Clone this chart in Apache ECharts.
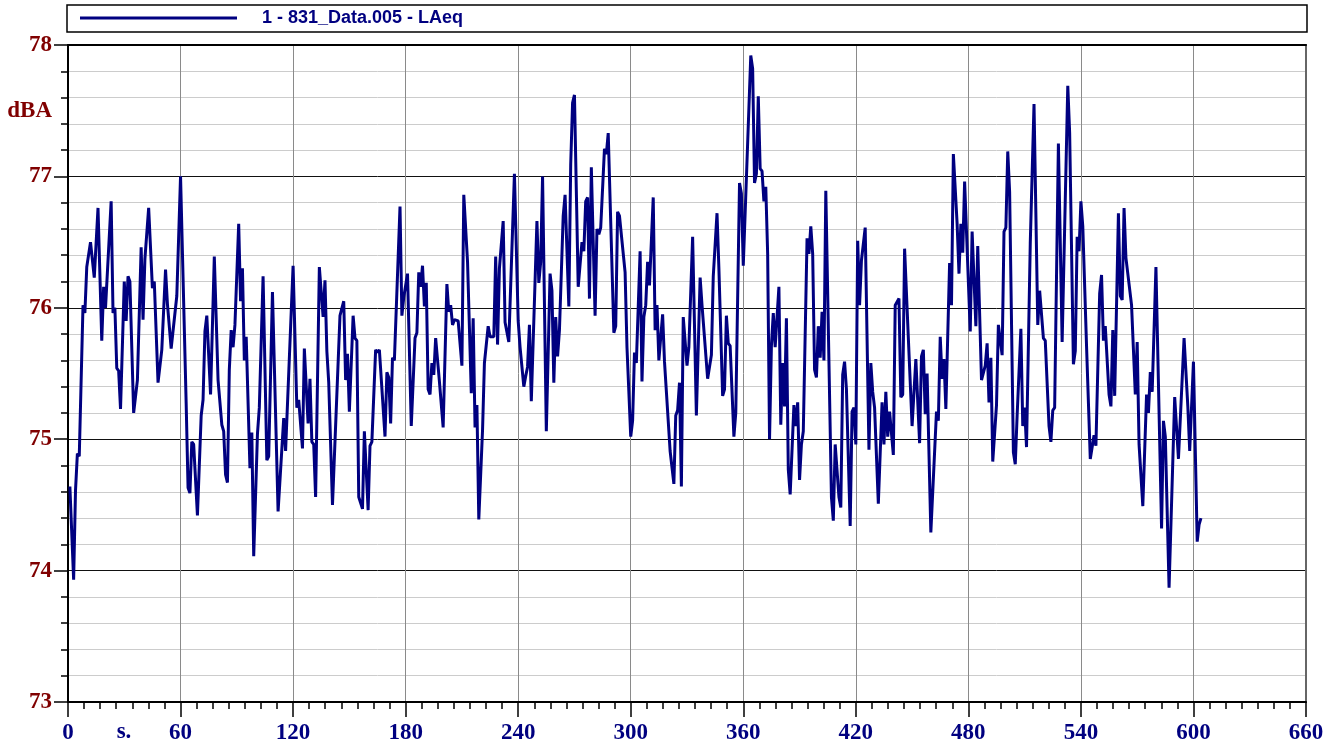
<!DOCTYPE html>
<html>
<head>
<meta charset="utf-8">
<script src="https://cdn.jsdelivr.net/npm/echarts@6/dist/echarts.min.js"></script>
<style>
html,body{margin:0;padding:0;background:#fff;}
#chart{width:1338px;height:745px;}
</style>
</head>
<body>
<div id="chart"></div>
<script>
// Sample times (s)
const timeSec = [
  1,3,4,5,6,8,9,10,12,14,
  16,18,19,20,23,24,25,26,27,28,
  30,31,32,33,35,37,39,40,41,43,
  45,46,48,50,52,53,55,56,58,60,
  63,64,65,66,67,69,71,72,73,74,
  75,76,78,80,81,82,83,84,85,86,
  87,88,89,91,92,93,94,95,97,98,
  99,101,102,104,106,107,109,112,115,116,
  117,120,122,123,125,126,128,129,130,131,
  132,134,136,137,138,139,141,145,147,148,
  149,150,152,153,154,155,157,158,160,161,
  162,164,165,166,169,170,171,172,173,174,
  177,178,179,180,181,183,185,186,187,188,
  189,190,191,192,193,194,195,196,198,200,
  202,203,204,205,206,208,210,211,213,215,
  216,217,218,219,221,222,224,225,227,228,
  229,230,232,233,235,238,240,241,243,244,
  245,246,247,248,250,251,252,253,255,257,
  258,259,260,261,262,264,265,267,268,269,
  270,272,274,275,276,277,278,279,281,282,
  283,284,286,287,288,289,291,292,293,294,
  295,297,298,300,301,302,303,305,306,307,
  308,309,310,312,313,314,315,317,318,321,
  323,324,325,326,327,328,330,331,333,335,
  337,338,339,341,342,343,344,346,347,349,
  350,351,352,353,355,356,358,359,360,364,
  365,366,367,368,369,370,371,372,373,374,
  375,376,377,379,380,381,382,383,384,385,
  387,388,389,390,391,392,394,395,396,397,
  398,399,400,401,402,403,404,407,408,409,
  411,412,413,414,415,417,418,419,420,421,
  422,423,425,427,428,429,430,432,434,435,
  436,437,438,439,440,441,443,444,445,446,
  448,450,452,454,455,456,457,458,460,461,
  463,464,465,466,467,468,470,471,472,474,
  475,476,477,478,481,482,484,485,487,489,
  490,491,492,493,495,496,497,498,499,500,
  501,502,504,505,506,508,509,510,511,513,
  515,517,518,520,521,523,524,525,526,528,
  530,533,534,536,537,538,539,540,541,543,
  545,547,548,550,551,552,553,554,555,556,
  557,558,560,561,562,563,564,567,568,569,
  570,571,572,573,575,576,577,578,580,583,
  584,585,587,590,592,595,597,598,600,602,
  603,604
];
// LAeq levels (dBA) at those times
const laeq = [
  74.64,73.93,74.61,74.89,74.87,76.02,75.96,76.31,76.50,76.23,
  76.76,75.75,76.16,76.00,76.81,75.96,76.00,75.54,75.52,75.23,
  76.20,75.90,76.24,76.20,75.20,75.45,76.46,75.91,76.37,76.76,
  76.15,76.20,75.43,75.68,76.29,76.03,75.69,75.69,76.09,77.00,
  75.27,74.63,74.59,74.98,74.96,74.42,75.18,75.30,75.82,75.94,
  75.95,75.34,76.39,75.45,75.44,75.11,75.06,74.73,74.67,75.53,
  75.83,75.70,75.87,76.64,76.05,76.30,75.60,75.78,74.78,75.05,
  74.11,75.04,75.24,76.24,74.84,74.87,76.12,74.45,75.16,74.91,
  74.90,76.32,75.24,75.30,74.93,75.69,75.12,75.46,74.98,74.96,
  74.56,76.31,75.93,76.21,75.67,75.43,74.50,75.94,76.05,75.45,
  75.65,75.21,75.94,75.77,75.75,74.56,74.47,75.06,74.46,74.95,
  74.98,75.68,75.66,75.68,75.02,75.51,75.47,75.12,75.62,75.60,
  76.77,75.94,76.08,76.07,76.26,75.10,75.77,75.81,76.27,76.16,
  76.32,76.01,76.19,75.38,75.34,75.58,75.49,75.77,75.44,75.09,
  76.18,75.97,76.02,75.87,75.91,75.90,75.56,76.86,76.35,75.35,
  75.92,75.09,75.26,74.39,75.07,75.58,75.86,75.78,75.78,76.39,
  75.72,76.30,76.66,75.89,75.74,77.02,75.90,75.70,75.40,75.48,
  75.55,75.87,75.29,75.30,76.66,76.19,76.35,77.00,75.06,76.26,
  76.13,75.43,75.93,75.63,75.83,76.70,76.86,76.01,77.09,77.56,
  77.62,76.16,76.50,76.43,76.81,76.84,76.07,77.07,75.94,76.60,
  76.56,76.61,77.21,77.17,77.33,77.34,75.81,75.86,76.73,76.70,
  76.69,76.27,75.70,75.02,75.14,75.66,75.58,76.43,75.44,75.93,
  76.02,76.35,76.17,76.84,75.83,76.02,75.60,75.95,75.59,74.91,
  74.66,75.18,75.22,75.43,74.64,75.93,75.56,75.70,76.54,75.18,
  76.23,76.02,76.02,75.46,75.47,75.64,76.24,76.72,76.30,75.33,
  75.38,75.94,75.73,75.71,75.02,75.20,76.95,76.87,76.32,77.92,
  77.82,76.95,77.02,77.61,77.06,77.04,76.81,76.92,76.41,75.00,
  75.71,75.96,75.70,76.16,75.11,75.58,75.25,75.92,74.77,74.58,
  75.26,75.10,75.28,74.69,74.96,75.06,76.53,76.41,76.62,76.41,
  75.53,75.47,75.86,75.62,75.97,75.60,76.89,74.56,74.38,74.96,
  74.56,74.48,75.49,75.59,75.38,74.34,75.21,75.24,74.96,76.51,
  76.02,76.36,76.61,74.92,75.58,75.36,75.24,74.51,75.28,74.96,
  75.36,75.02,75.21,75.22,74.88,76.02,76.07,75.32,75.34,76.45,
  75.77,75.10,75.61,74.97,75.63,75.68,75.19,75.50,74.29,74.29,
  75.21,75.14,75.78,75.46,75.61,75.23,76.34,76.02,77.17,76.64,
  76.26,76.64,76.42,76.96,75.82,76.58,75.86,76.47,75.45,75.56,
  75.73,75.28,75.62,74.83,75.26,75.87,75.87,75.64,76.58,76.61,
  77.19,76.88,74.90,74.81,75.18,75.84,75.10,75.24,74.94,76.49,
  77.55,75.87,76.13,75.77,75.75,75.10,74.98,75.22,75.24,77.25,
  75.74,77.69,77.33,75.57,75.67,76.54,76.43,76.81,76.62,75.71,
  74.85,75.03,74.95,76.11,76.25,75.75,75.86,75.86,75.34,75.25,
  75.83,75.33,76.72,76.09,76.06,76.76,76.38,76.02,76.01,75.34,
  75.74,74.96,74.95,74.49,75.34,75.20,75.51,75.36,76.31,74.32,
  75.14,75.02,73.87,75.32,74.85,75.77,75.25,74.91,75.59,74.22,
  74.35,74.40
];
const seriesName = '1 - 831_Data.005 - LAeq';
const xRange = [0, 660];
const xStep = 60;
const yRange = [73, 78];
const yStep = 1;
const xUnit = 's.';
const yUnit = 'dBA';

const chart = echarts.init(document.getElementById('chart'), null, {renderer: 'canvas'});
const serif = "'Liberation Serif', 'Times New Roman', serif";
const sans = "'Liberation Sans', Arial, sans-serif";

chart.setOption({
  animation: false,
  backgroundColor: '#ffffff',
  grid: {left: 68, right: 32, top: 45, bottom: 43, containLabel: false},
  graphic: [
    {type: 'rect', z: 0, shape: {x: 67, y: 5, width: 1240, height: 27},
     style: {fill: 'none', stroke: '#000', lineWidth: 1.5}},
    {type: 'text', x: 124, y: 732, z: 5,
     style: {text: xUnit, fill: '#000080', font: 'bold 23px ' + serif, textAlign: 'center', textVerticalAlign: 'middle'}},
    {type: 'text', x: 52, y: 111, z: 5,
     style: {text: yUnit, fill: '#800000', font: 'bold 23px ' + serif, textAlign: 'right', textVerticalAlign: 'middle'}}
  ],
  legend: {
    show: true, left: 80, top: 8, padding: 0, z: 10,
    icon: 'rect', itemWidth: 157, itemHeight: 3,
    textStyle: {color: '#000080', fontFamily: sans, fontWeight: 'bold', fontSize: 18, lineHeight: 20, padding: [0, 0, 0, 20]},
    data: [seriesName]
  },
  xAxis: [{
    type: 'value', min: xRange[0], max: xRange[1], interval: xStep,
    axisLine: {show: true, onZero: false, lineStyle: {color: '#000', width: 2}},
    axisTick: {show: true, length: 15, lineStyle: {color: '#000', width: 1.5}},
    minorTick: {show: true, splitNumber: 7, length: 7, lineStyle: {color: '#000', width: 1.5}},
    axisLabel: {margin: 20, color: '#000080', fontFamily: serif, fontWeight: 'bold', fontSize: 23, showMinLabel: true, showMaxLabel: true},
    splitLine: {show: true, lineStyle: {color: '#8a8a8a', width: 1}},
    minorSplitLine: {show: false}
  }, {
    type: 'value', position: 'top', min: xRange[0], max: xRange[1], interval: xStep,
    axisLine: {show: true, onZero: false, lineStyle: {color: '#000', width: 2}},
    axisTick: {show: false}, axisLabel: {show: false}, splitLine: {show: false}
  }],
  yAxis: [{
    type: 'value', min: yRange[0], max: yRange[1], interval: yStep,
    axisLine: {show: true, onZero: false, lineStyle: {color: '#000', width: 2}},
    axisTick: {show: true, length: 14, lineStyle: {color: '#000', width: 1.5}},
    minorTick: {show: true, splitNumber: 5, length: 7, lineStyle: {color: '#000', width: 1.5}},
    axisLabel: {margin: 16, color: '#800000', fontFamily: serif, fontWeight: 'bold', fontSize: 23},
    splitLine: {show: true, lineStyle: {color: '#111', width: 1}},
    minorSplitLine: {show: true, lineStyle: {color: '#cccccc', width: 1}}
  }, {
    type: 'value', position: 'right', min: yRange[0], max: yRange[1], interval: yStep,
    axisLine: {show: true, onZero: false, lineStyle: {color: '#666', width: 2}},
    axisTick: {show: false}, axisLabel: {show: false}, splitLine: {show: false}
  }],
  series: [{
    name: seriesName, type: 'line', xAxisIndex: 0, yAxisIndex: 0,
    showSymbol: false, symbol: 'none', smooth: false,
    lineStyle: {color: '#000080', width: 3},
    itemStyle: {color: '#000080'},
    data: timeSec.map((t, i) => [t, laeq[i]])
  }]
});
</script>
</body>
</html>
